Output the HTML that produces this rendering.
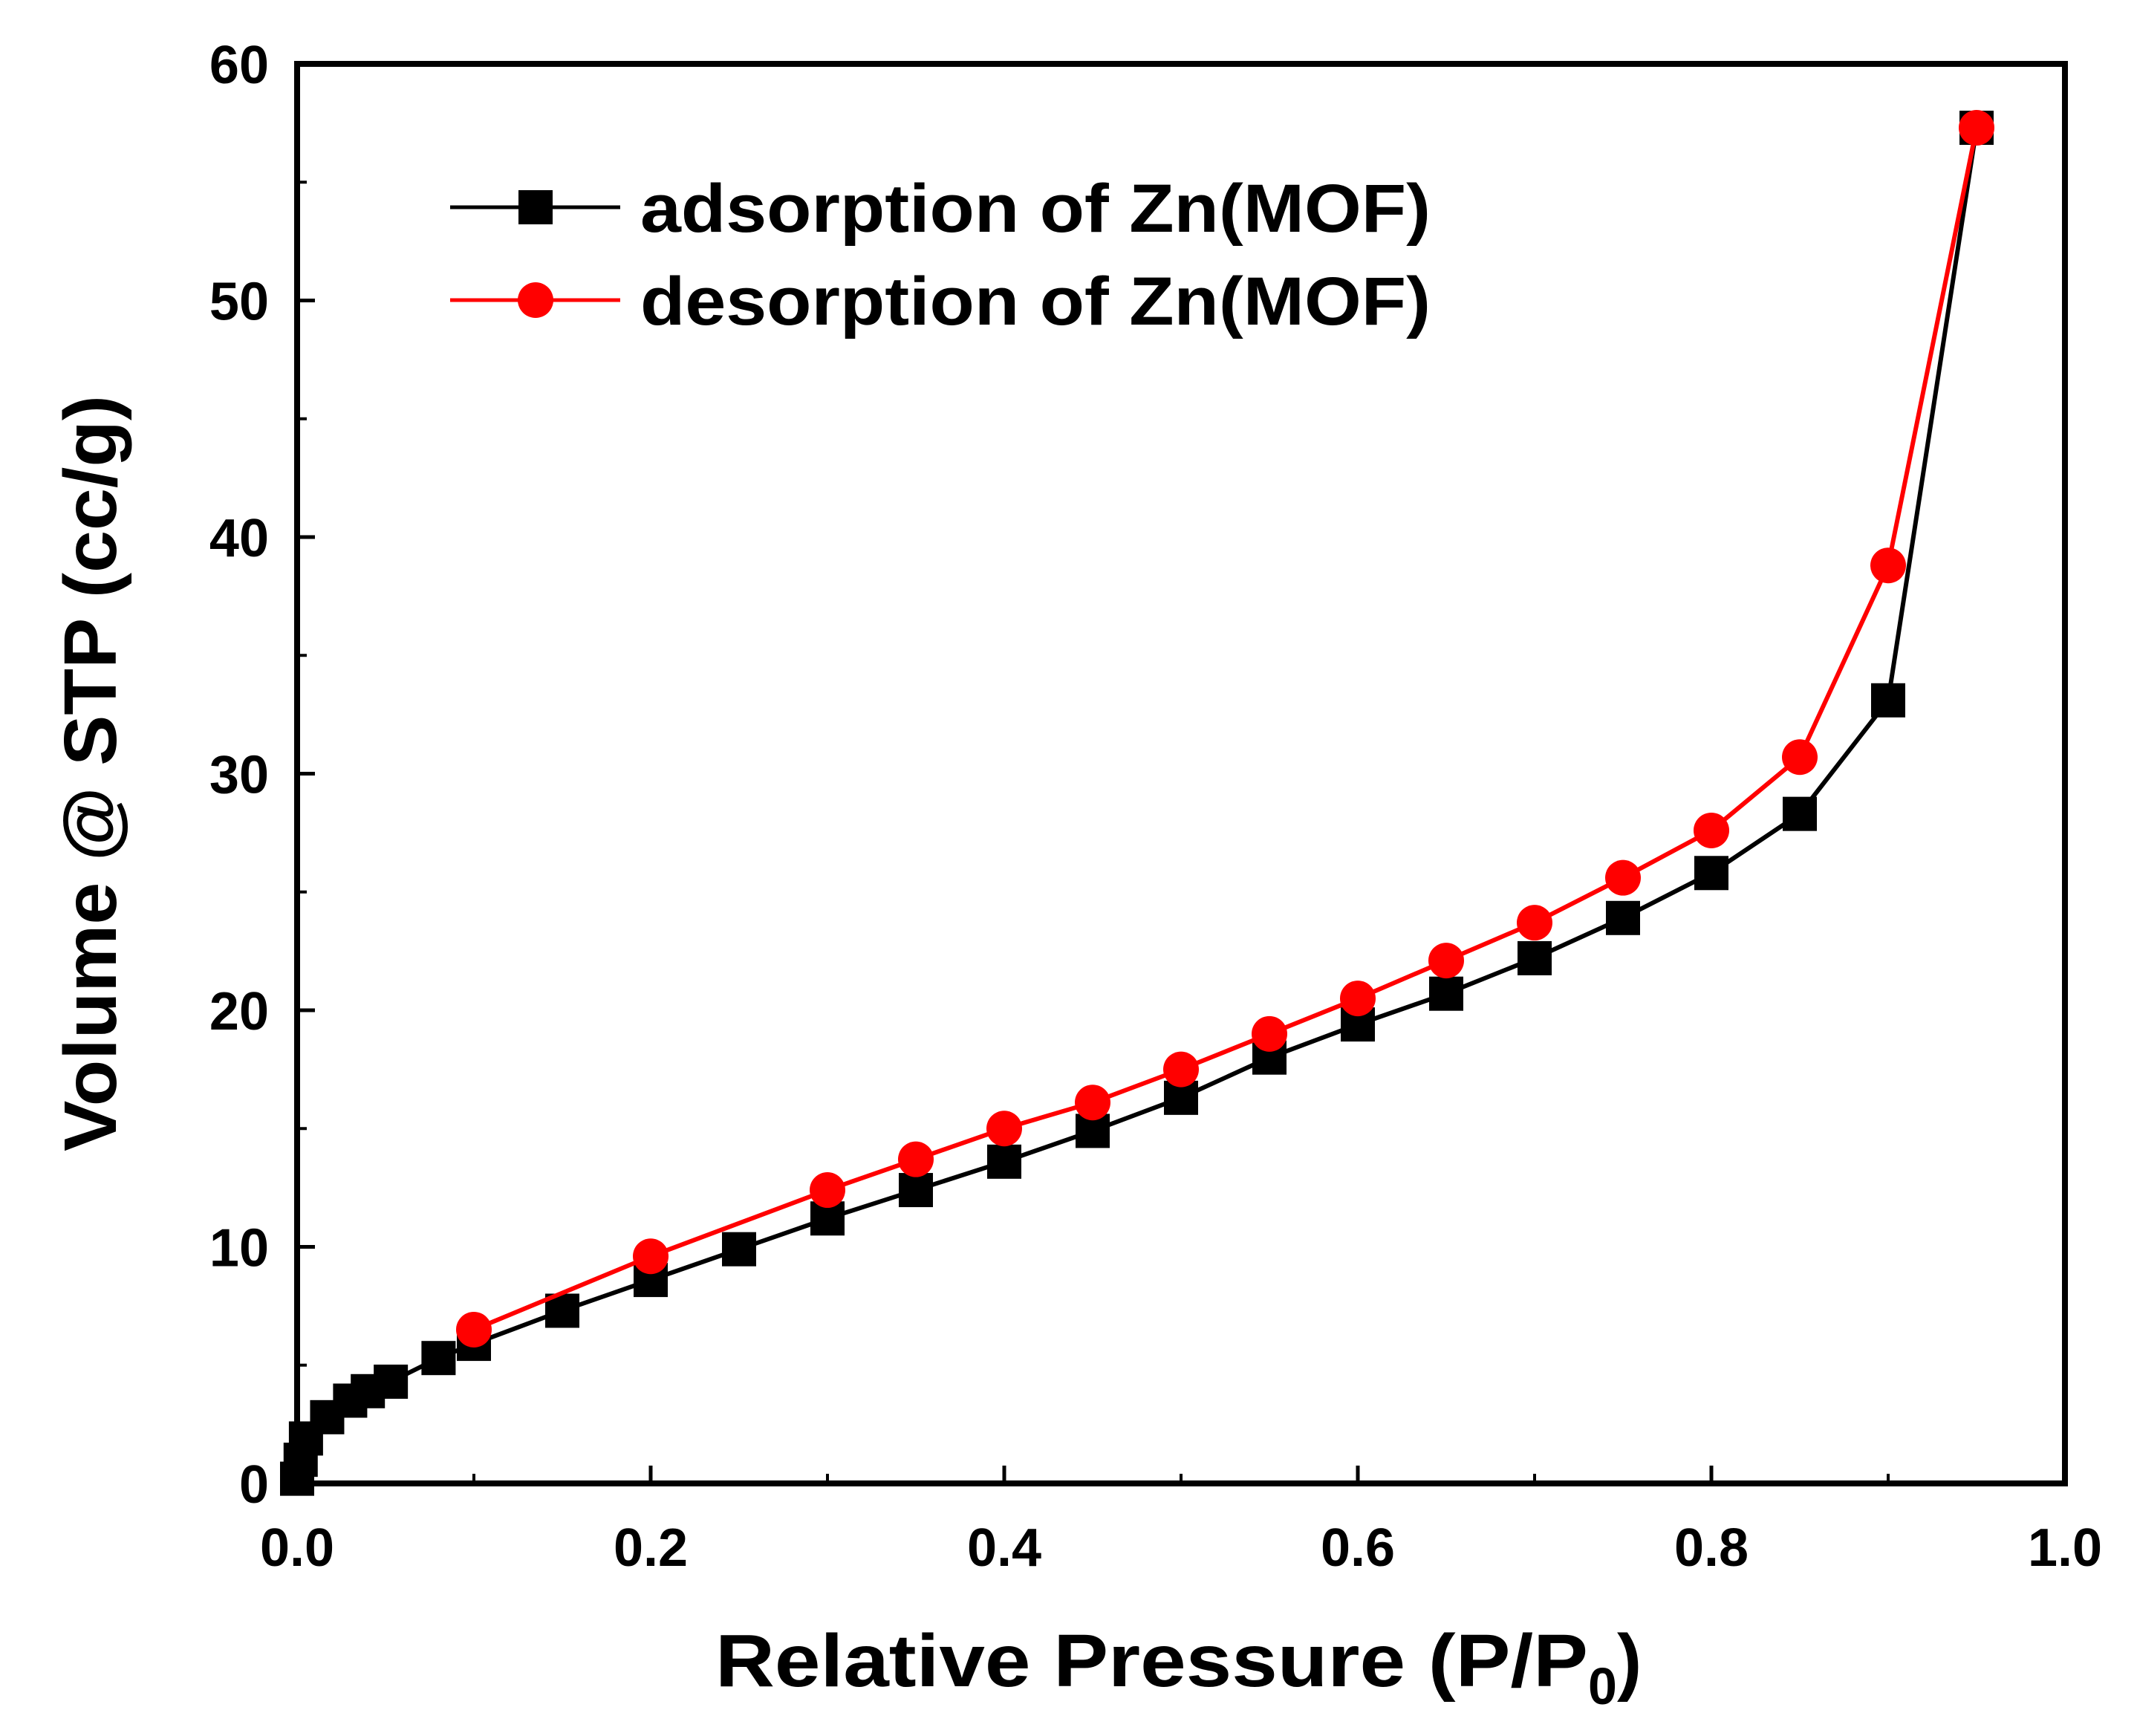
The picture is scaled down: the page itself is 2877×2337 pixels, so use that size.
<!DOCTYPE html>
<html><head><meta charset="utf-8"><style>
html,body{margin:0;padding:0;background:#fff;}
svg{display:block;font-family:"Liberation Sans",Arial,sans-serif;font-weight:bold;}
</style></head><body>
<svg id="chart" width="2877" height="2337" viewBox="0 0 2877 2337"></svg>
<script>
const xTicks=[0.0,0.2,0.4,0.6,0.8,1.0];
const xTickLabels=["0.0","0.2","0.4","0.6","0.8","1.0"];
const yTicks=[0,10,20,30,40,50,60];
const yTickLabels=["0","10","20","30","40","50","60"];
const adsX=[0.0,0.002,0.005,0.017,0.03,0.04,0.053,0.08,0.1,0.15,0.2,0.25,0.3,0.35,0.4,0.45,0.5,0.55,0.6,0.65,0.7,0.75,0.8,0.85,0.9,0.95];
const adsY=[0.2,1.0,1.9,2.8,3.5,3.9,4.3,5.3,5.9,7.3,8.6,9.9,11.2,12.4,13.6,14.9,16.3,18.0,19.4,20.7,22.2,23.9,25.8,28.3,33.1,57.3];
const desX=[0.1,0.2,0.3,0.35,0.4,0.45,0.5,0.55,0.6,0.65,0.7,0.75,0.8,0.85,0.9,0.95];
const desY=[6.5,9.6,12.4,13.7,15.0,16.1,17.5,19.0,20.5,22.1,23.7,25.6,27.6,30.7,38.8,57.3];

const L=400,R=2780,T=86,B=1997;
const sx=v=>L+(v-0)/(1-0)*(R-L);
const sy=v=>B-(v-0)/(60-0)*(B-T);
const NS="http://www.w3.org/2000/svg";
const svg=document.getElementById('chart');
function mk(tag,attrs,parent){const e=document.createElementNS(NS,tag);for(const k in attrs)e.setAttribute(k,attrs[k]);(parent||svg).appendChild(e);return e;}

xTicks.forEach((v,i)=>{
  const t=mk('line',{x1:sx(v),x2:sx(v),y1:B,y2:B-24,stroke:'#000','stroke-width':5});
  
  
  if(i<xTicks.length-1){const m=mk('line',{x1:sx(v+0.1),x2:sx(v+0.1),y1:B,y2:B-13,stroke:'#000','stroke-width':4});
  
  }
  const lb=mk('text',{x:sx(v),y:2108,'font-size':72,'text-anchor':'middle',fill:'#000'});
  lb.textContent=xTickLabels[i];
  
  
});
yTicks.forEach((v,i)=>{
  const t=mk('line',{x1:L,x2:L+24,y1:sy(v),y2:sy(v),stroke:'#000','stroke-width':5});
  
  
  if(i<yTicks.length-1){const m=mk('line',{x1:L,x2:L+13,y1:sy(v+5),y2:sy(v+5),stroke:'#000','stroke-width':4});
  
  }
  const lb=mk('text',{x:362,y:sy(v)+26,'font-size':72,'text-anchor':'end',fill:'#000'});
  lb.textContent=yTickLabels[i];
  
  
});

function series(xs,ys,color,shape,name){
  const g=mk('g',{});
  
  
  mk('polyline',{points:xs.map((x,i)=>sx(x)+','+sy(ys[i])).join(' '),fill:'none',stroke:color,'stroke-width':6},g);
  xs.forEach((x,i)=>{
    let m;
    if(shape==='sq') m=mk('rect',{x:sx(x)-23,y:sy(ys[i])-23,width:46,height:46,fill:color},g);
    else m=mk('circle',{cx:sx(x),cy:sy(ys[i]),r:24,fill:color},g);
    
    
  });
}
series(adsX,adsY,'#000','sq','adsorption-series');
series(desX,desY,'#ff0000','ci','desorption-series');

const fr=mk('rect',{x:L,y:T,width:R-L,height:B-T,fill:'none',stroke:'#000','stroke-width':8});



const lg=mk('g',{});


const e1=mk('g',{},lg);


mk('line',{x1:606,x2:835,y1:279,y2:279,stroke:'#000','stroke-width':5},e1);
mk('rect',{x:698,y:256,width:46,height:46,fill:'#000'},e1);
const t1=mk('text',{x:862,y:312,'font-size':92,fill:'#000',textLength:1064,lengthAdjust:'spacingAndGlyphs'},e1);t1.textContent='adsorption of Zn(MOF)';
const e2=mk('g',{},lg);


mk('line',{x1:606,x2:835,y1:404,y2:404,stroke:'#ff0000','stroke-width':5},e2);
mk('circle',{cx:721,cy:404,r:24,fill:'#ff0000'},e2);
const t2=mk('text',{x:862,y:437,'font-size':92,fill:'#000',textLength:1064,lengthAdjust:'spacingAndGlyphs'},e2);t2.textContent='desorption of Zn(MOF)';

const xt=mk('text',{x:963,y:2270,'font-size':100,fill:'#000'});


xt.innerHTML='<tspan textLength="1175" lengthAdjust="spacingAndGlyphs">Relative Pressure (P/P</tspan><tspan font-size="70" dy="24">0</tspan><tspan dy="-24">)</tspan>';
const yt=mk('text',{x:0,y:0,'font-size':100,'text-anchor':'middle',fill:'#000',textLength:1018,lengthAdjust:'spacingAndGlyphs',transform:'translate(156,1041) rotate(-90)'});


yt.textContent='Volume @ STP (cc/g)';
</script>
</body></html>
